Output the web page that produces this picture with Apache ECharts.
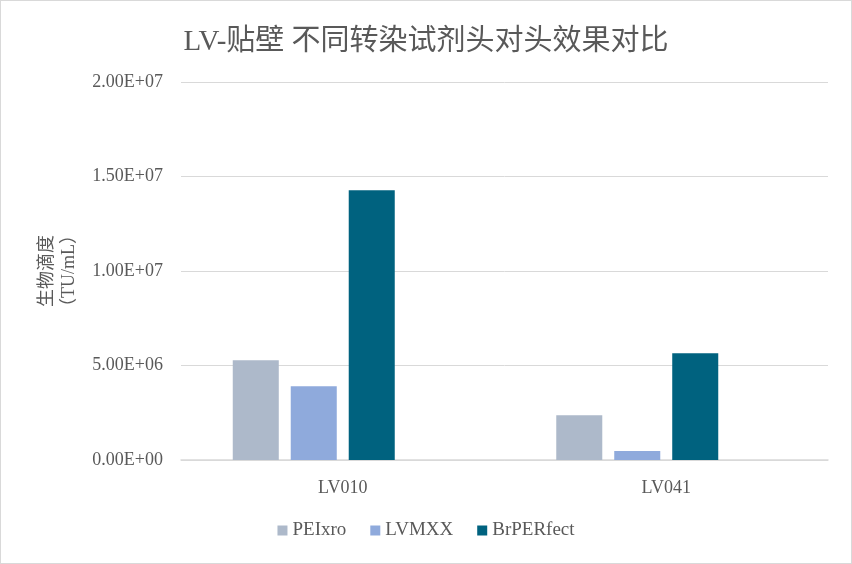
<!DOCTYPE html>
<html><head><meta charset="utf-8">
<script src="https://cdn.jsdelivr.net/npm/echarts@6/dist/echarts.min.js"></script>
<style>html,body{margin:0;padding:0;background:#fff}#c{width:850px;height:562px;border:1px solid #d9d9d9}</style>
</head><body><div id="c"></div>
<script>
const categories = ['LV010', 'LV041'];
const seriesNames = ['PEIxro', 'LVMXX', 'BrPERfect'];
const peixro = [5.28e6, 2.37e6];
const lvmxx = [3.9e6, 0.47e6];
const brperfect = [1.427e7, 5.65e6];
const yTicks = [0, 5e6, 1e7, 1.5e7, 2e7];

const colors = ['#adb9ca', '#8faadc', '#00627f'];
const serif = '"Liberation Serif","DejaVu Serif","Noto Sans CJK SC",serif';
function fmt(v){
  const s = Number(v).toExponential(2).toUpperCase();
  return s.replace(/E([+-])(\d)$/, 'E$10$2');
}
const chart = echarts.init(document.getElementById('c'));
const values = [peixro, lvmxx, brperfect];
const series = seriesNames.map((n,i)=>({
  name:n, type:'bar', data:values[i], barGap:'26%', barCategoryGap:'32%',
  itemStyle:{color:colors[i]}
}));
series.push({name:'_blank', type:'bar', data:[null,null], barGap:'26%', barCategoryGap:'32%'});
chart.setOption({
  animation:false,
  title:{text:'LV-贴壁 不同转染试剂头对头效果对比', left:'center', top:22,
    textStyle:{fontFamily:serif, fontSize:29, fontWeight:'normal', color:'#595959'}},
  legend:{data:seriesNames, bottom:18, left:'center', icon:'rect', itemWidth:10, itemHeight:10, itemGap:24,
    textStyle:{fontFamily:serif, fontSize:19, color:'#595959'}},
  grid:{left:180, right:23, top:81, bottom:103},
  xAxis:{type:'category', data:categories,
    axisLine:{lineStyle:{color:'#d9d9d9', width:1.5}}, axisTick:{show:false},
    axisLabel:{fontFamily:serif, fontSize:18, color:'#595959', margin:19}},
  yAxis:{type:'value', min:0, max:2e7, interval:5e6,
    name:'生物滴度\n（TU/mL）', nameLocation:'middle', nameRotate:90, nameGap:101,
    nameTextStyle:{fontFamily:serif, fontSize:18, color:'#595959', lineHeight:22},
    axisLine:{show:false}, axisTick:{show:false},
    splitLine:{lineStyle:{color:'#d9d9d9', width:1}},
    axisLabel:{fontFamily:serif, fontSize:18, color:'#595959', margin:18, formatter:fmt}},
  series:series
});
</script></body></html>
